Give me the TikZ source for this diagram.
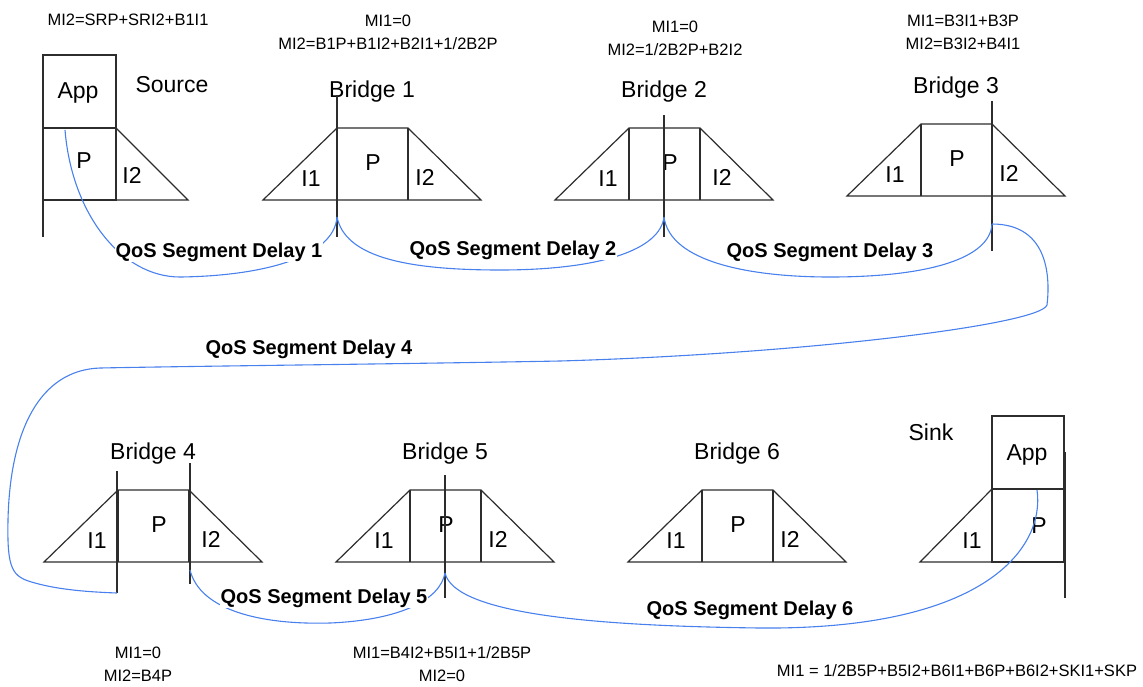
\documentclass[tikz,border=0pt]{standalone}
\usepackage{fontspec}
\setmainfont{Liberation Sans}
\usepackage{tikz}
\usetikzlibrary{calc}
\definecolor{linkblue}{RGB}{72,128,238}
\definecolor{partgray}{RGB}{45,45,45}

\begin{document}
\begin{tikzpicture}[x=1pt,y=-1pt,
  part/.style={draw=partgray,line width=1.2pt},
  lbl/.style={anchor=base,inner sep=0pt,font=\fontsize{23}{26}\selectfont},
  mi/.style={align=center,inner sep=0pt,font=\fontsize{16.5}{23}\selectfont},
  qos/.style={anchor=base,fill=white,inner sep=0.5pt,font=\fontsize{20}{24}\selectfont\bfseries},
  link/.style={linkblue,line width=1.1pt}]
  \useasboundingbox (0,0) rectangle (1143,686);

  \foreach \bx/\by/\n/\dx in {263/200/1/0,555/200/2/5,847/196/3/0,44/562/4/5,336/562/5/0,628/562/6/0}{
    \draw[part] (\bx,\by) -- ++(74,-72) -- ++(71,0) -- ++(73,72) -- cycle;
    \draw[part] (\bx+74,\by) -- ++(0,-72) (\bx+145,\by) -- ++(0,-72);
    \node[lbl] (bn\n) at (\bx+109,\by-103) {Bridge \n};
    \node[lbl] (ia\n) at (\bx+48+\dx,\by-14) {I1};
    \node[lbl] (p\n) at (\bx+110+\dx,\by-30) {P};
    \node[lbl] (ib\n) at (\bx+162+\dx,\by-15) {I2};
  }

  \draw[part] (43,55) rectangle (116,128);
  \draw[part] (43,128) rectangle (116,200);
  \draw[part] (116,128) -- (188,200) -- (116,200);
  \node[lbl] (appsrc) at (78,98) {App};
  \node[lbl] (psrc) at (84,168) {P};
  \node[lbl] (isrc) at (132,183) {I2};
  \node[lbl] (source) at (172,92) {Source};

  \draw[part] (992,416) rectangle (1064,489);
  \draw[part] (992,489) rectangle (1064,562);
  \draw[part] (992,489) -- (920,562) -- (992,562);
  \node[lbl] (appsnk) at (1027,460) {App};
  \node[lbl] (psnk) at (1039,533) {P};
  \node[lbl] (isnk) at (972,548) {I1};
  \node[lbl] (sink) at (931,440) {Sink};

  \draw[part] (43,55) -- (43,237);
  \draw[part] (337,95) -- (337,237);
  \draw[part] (664,115) -- (664,237);
  \draw[part] (992,101) -- (992,251);
  \draw[part] (117,471) -- (117,593);
  \draw[part] (190,463) -- (190,584);
  \draw[part] (445,475) -- (445,598);
  \draw[part] (1065,452) -- (1065,598);

  \coordinate (src) at (65,130);
  \coordinate (b1) at (337,217);
  \coordinate (b2) at (664,217);
  \coordinate (b3) at (992,224);
  \coordinate (b4in) at (117,593);
  \coordinate (b4out) at (190,570);
  \coordinate (b5) at (445,573);
  \coordinate (snk) at (1037,490);

  \draw[link] (src) .. controls (72,215) and (122,277) .. (180,277) .. controls (260,276) and (334,258) .. (b1);
  \draw[link] (b1) .. controls (345,255) and (400,270) .. (500,270) .. controls (600,270) and (660,250) .. (b2);
  \draw[link] (b2) .. controls (670,262) and (750,277) .. (830,277) .. controls (930,277) and (990,258) .. (b3);
  \draw[link] (b3) .. controls (1050,224) and (1050,280) .. (1047,305) .. controls (1040,325) and (800,354) .. (560,361)
    .. controls (400,364) and (200,366) .. (100,368) .. controls (40,370) and (10,430) .. (8,520)
    .. controls (7,570) and (12,577) .. (35,583) .. controls (60,590) and (90,592) .. (b4in);
  \draw[link] (b4out) .. controls (200,610) and (260,625) .. (330,623) .. controls (400,620) and (440,600) .. (b5);
  \draw[link] (b5) .. controls (455,615) and (600,626) .. (760,628) .. controls (990,630) and (1045,545) .. (snk);

  \node[qos] (d1) at (219,257) {QoS Segment Delay 1};
  \node[qos] (d2) at (513,255) {QoS Segment Delay 2};
  \node[qos] (d3) at (830,257) {QoS Segment Delay 3};
  \node[qos] (d4) at (309,354) {QoS Segment Delay 4};
  \node[qos] (d5) at (324,603) {QoS Segment Delay 5};
  \node[qos] (d6) at (750,615) {QoS Segment Delay 6};

  \node[mi] (misrc) at (128,20) {MI2=SRP+SRI2+B1I1};
  \node[mi] (mib1) at (388,32) {MI1=0\\MI2=B1P+B1I2+B2I1+1/2B2P};
  \node[mi] (mib2) at (675,38) {MI1=0\\MI2=1/2B2P+B2I2};
  \node[mi] (mib3) at (963,32) {MI1=B3I1+B3P\\MI2=B3I2+B4I1};
  \node[mi] (mib4) at (138,664) {MI1=0\\MI2=B4P};
  \node[mi] (mib5) at (442,664) {MI1=B4I2+B5I1+1/2B5P\\MI2=0};
  \node[mi] (misnk) at (957,671) {MI1 = 1/2B5P+B5I2+B6I1+B6P+B6I2+SKI1+SKP};
\end{tikzpicture}
\end{document}
